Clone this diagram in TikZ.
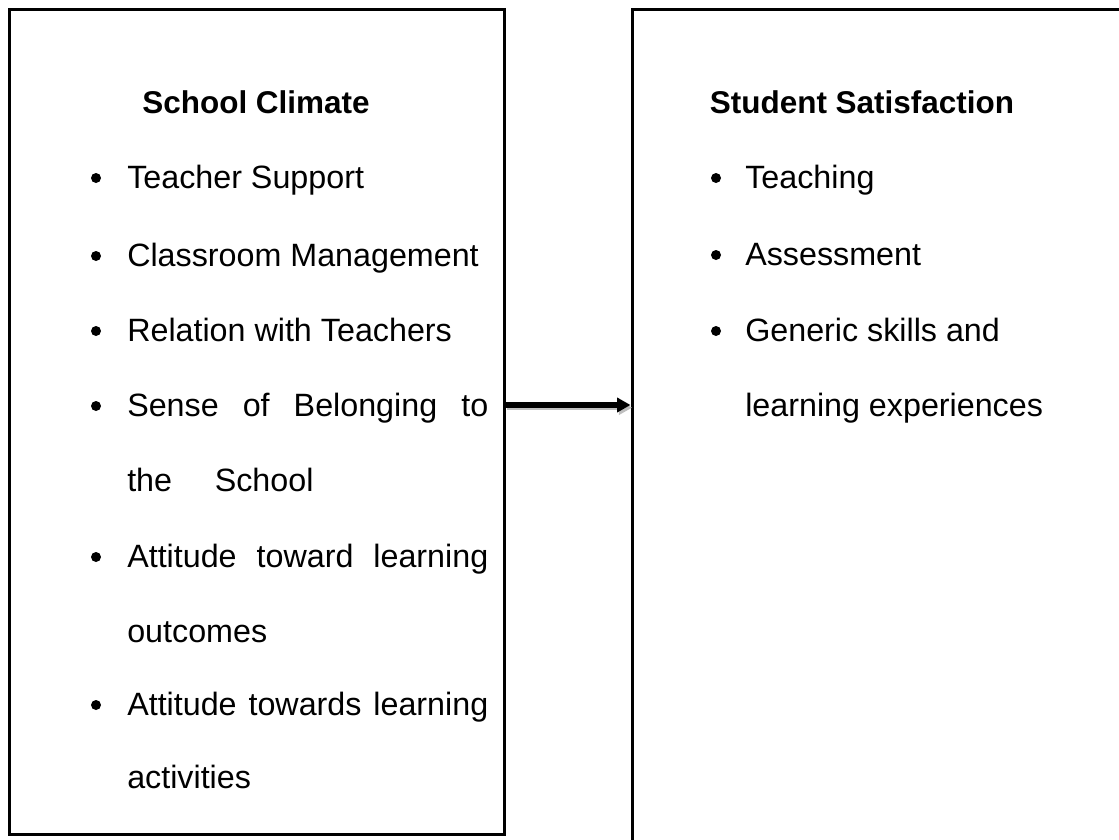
\documentclass[tikz,border=0pt]{standalone}
\usepackage{fontspec}
\setmainfont{Liberation Sans}
\usetikzlibrary{positioning,arrows.meta}

\tikzset{
  panel/.style={draw, line width=2.25pt, inner sep=0pt},
  item/.style={anchor=base west, inner sep=0pt, font=\fontsize{24.2}{29}\selectfont},
  heading/.style={anchor=base, inner sep=0pt, font=\fontsize{23.6}{28}\selectfont\bfseries},
  dot/.style={circle, fill, inner sep=0pt, minimum size=7.5pt},
  link/.style={line width=4pt, -{Triangle[length=10pt,width=10.5pt]}},
}

\begin{document}
\begin{tikzpicture}[x=0.75pt, y=-0.75pt]
    \useasboundingbox (0,0) rectangle (1119,839);
    \clip (0,0) rectangle (1119,839);

    % School climate
    \node[panel, minimum width=371.25pt, minimum height=618.75pt] (climate) at (256.5,421.5) {};
    \node[heading] (climate-title) at (256,113) {School Climate};
    \foreach \y/\txt in {188/Teacher Support, 266/Classroom Management, 341/Relation with Teachers} {
        \node[dot] (climate-dot-\y) at (96,\y-10) {};
        \node[item] (climate-\y) at (127,\y) {\txt};
    }
    \foreach \y in {416, 567, 715} {
        \node[dot] (climate-dot-\y) at (96,\y-10) {};
    }
    \node[item] (climate-416) at (127,416) {\makebox[270.75pt][s]{Sense of Belonging to}};
    \node[item] (climate-491) at (127,491) {the\hspace{32pt}School};
    \node[item] (climate-567) at (127,567) {\makebox[270.75pt][s]{Attitude toward learning}};
    \node[item] (climate-642) at (127,642) {outcomes};
    \node[item] (climate-715) at (127,715) {\makebox[270.75pt][s]{Attitude towards learning}};
    \node[item] (climate-788) at (127,788) {activities};

    % Student satisfaction (runs off the page)
    \node[panel, minimum width=390pt, minimum height=652.5pt] (satisfaction) at (892,444) {};
    \node[heading] (satisfaction-title) at (862,113) {Student Satisfaction};
    \foreach \y/\txt in {188/Teaching, 265/Assessment, 341/Generic skills and} {
        \node[dot] (satisfaction-dot-\y) at (716,\y-10) {};
        \node[item] (satisfaction-\y) at (745,\y) {\txt};
    }
    \node[item] (satisfaction-416) at (745,416) {learning experiences};

    % Link between the two boxes, with a soft shadow
    \coordinate (joint) at (502,405);
    \draw[link, draw=black!25, fill=black!25, transform canvas={xshift=1.2pt, yshift=-2pt}]
        (climate.east |- joint) -- (satisfaction.west |- joint);
    \draw[link] (climate.east |- joint) -- (satisfaction.west |- joint);
\end{tikzpicture}
\end{document}
